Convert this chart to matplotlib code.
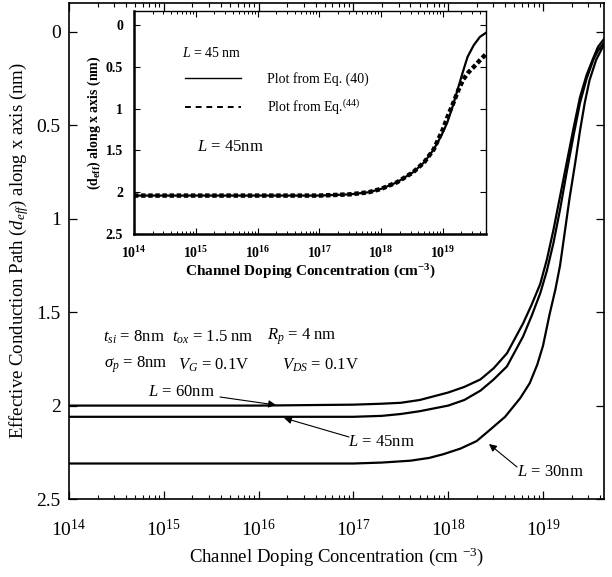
import matplotlib
matplotlib.use("Agg")
import matplotlib.pyplot as plt
import numpy as np
from matplotlib.lines import Line2D

plt.rcParams['font.family'] = ['Liberation Serif', 'DejaVu Serif']
plt.rcParams['mathtext.fontset'] = 'custom'
plt.rcParams['mathtext.rm'] = 'Liberation Serif'
plt.rcParams['mathtext.it'] = 'Liberation Serif:italic'
plt.rcParams['mathtext.bf'] = 'Liberation Serif:bold'

# ---------------- data (log10 of doping, d_eff in nm) ----------------
L60_logN = [14, 15, 16, 17, 17.3, 17.5, 17.7, 17.85, 18.0, 18.17, 18.34, 18.48, 18.62, 18.79,
            18.88, 18.97, 19.04, 19.11, 19.18, 19.25, 19.32, 19.39, 19.46, 19.53, 19.58, 19.64]
L60_d = [2.0, 2.0, 2.0, 1.995, 1.99, 1.985, 1.97, 1.95, 1.93, 1.90, 1.86, 1.80, 1.72, 1.56,
         1.46, 1.35, 1.22, 1.06, 0.88, 0.70, 0.52, 0.35, 0.23, 0.14, 0.08, 0.04]

L45_logN = [14, 15, 16, 17, 17.3, 17.5, 17.7, 17.85, 18.0, 18.17, 18.34, 18.48, 18.62, 18.79,
            18.88, 18.97, 19.04, 19.11, 19.18, 19.25, 19.32, 19.39, 19.46, 19.53, 19.58, 19.64]
L45_d = [2.06, 2.06, 2.06, 2.06, 2.055, 2.045, 2.03, 2.015, 2.0, 1.97, 1.92, 1.86, 1.79, 1.63,
         1.52, 1.40, 1.28, 1.13, 0.95, 0.75, 0.56, 0.38, 0.25, 0.15, 0.10, 0.06]

L30_logN = [14, 15, 16, 17, 17.3, 17.6, 17.8, 17.95, 18.13, 18.3, 18.44, 18.6, 18.76, 18.86,
            18.94, 19.0, 19.07, 19.13, 19.18, 19.23, 19.28, 19.34, 19.39, 19.44, 19.49,
            19.56, 19.64]
L30_d = [2.31, 2.31, 2.31, 2.31, 2.305, 2.295, 2.28, 2.26, 2.23, 2.19, 2.13, 2.06, 1.96, 1.88,
         1.78, 1.68, 1.51, 1.38, 1.25, 1.07, 0.89, 0.70, 0.53, 0.38, 0.26, 0.15, 0.07]

# inset (L = 45 nm)
eq40_logN = [14, 15, 16, 17, 17.5, 17.8, 18.0, 18.26, 18.52, 18.7, 18.85, 18.97, 19.07, 19.16,
             19.24, 19.32, 19.4, 19.5, 19.6, 19.72]
eq40_d = [2.04, 2.04, 2.04, 2.04, 2.025, 2.0, 1.96, 1.88, 1.76, 1.64, 1.49, 1.33, 1.17, 0.97,
          0.77, 0.57, 0.38, 0.24, 0.14, 0.08]
eq44_logN = [14, 15, 16, 17, 17.5, 17.8, 18.0, 18.26, 18.52, 18.7, 18.85, 19.0, 19.08, 19.17,
             19.25, 19.33, 19.42, 19.5, 19.6, 19.72]
eq44_d = [2.04, 2.04, 2.04, 2.04, 2.025, 2.0, 1.96, 1.88, 1.76, 1.64, 1.49, 1.25, 1.09, 0.93,
          0.78, 0.65, 0.56, 0.50, 0.42, 0.33]

main_xticks_exp = [14, 15, 16, 17, 18, 19]
main_xticklabels = ['10$^{14}$', '10$^{15}$', '10$^{16}$', '10$^{17}$', '10$^{18}$', '10$^{19}$']
main_yticks = [0, 0.5, 1, 1.5, 2, 2.5]
main_yticklabels = ['0', '0.5', '1', '1.5', '2', '2.5']
inset_xticklabels = [r'$\mathbf{10^{14}}$', r'$\mathbf{10^{15}}$', r'$\mathbf{10^{16}}$',
                     r'$\mathbf{10^{17}}$', r'$\mathbf{10^{18}}$', r'$\mathbf{10^{19}}$']

W, H = 612, 577
fig = plt.figure(figsize=(W / 100, H / 100), dpi=100)

def fx(px):
    return px / W

def fy(py):
    return 1 - py / H

# ---------------- main axes ----------------
ax = fig.add_axes([fx(69), fy(499), fx(604) - fx(69), fy(3) - fy(499)])
for lx, d in [(L60_logN, L60_d), (L45_logN, L45_d), (L30_logN, L30_d)]:
    ax.plot(10 ** np.array(lx), d, color='black', lw=1.6)
ax.set_xscale('log')
ax.set_xlim(1e14, 4.4e19)
ax.set_ylim(2.5, -0.155)
ax.set_xticks([10.0 ** e for e in main_xticks_exp])
ax.set_xticklabels(main_xticklabels, fontsize=14)
ax.set_yticks(main_yticks)
ax.set_yticklabels(main_yticklabels, fontsize=14)
ax.tick_params(which='both', direction='in', top=True, right=True)
ax.tick_params(which='major', length=6, width=0.9)
ax.tick_params(which='minor', length=3, width=0.8)
ax.tick_params(axis='x', which='major', pad=14)
ax.tick_params(axis='y', which='major', pad=6)
for s in ax.spines.values():
    s.set_linewidth(1.2)
ax.set_xlabel('Channel Doping Concentration (cm $^{-3}$)', fontsize=13.5, labelpad=4)
ax.set_ylabel('Effective Conduction Path ($d_{eff}$) along x axis (nm)', fontsize=13.5, labelpad=4)

def P(px, py):
    return (px, H - py)

kw = dict(xycoords='figure pixels', textcoords='figure pixels')
fig.text(fx(103), fy(337), r'$t_{si}$ = 8nm', fontsize=12, va='center', ha='left')
fig.text(fx(172), fy(337), r'$t_{ox}$ = 1.5 nm', fontsize=12, va='center', ha='left')
fig.text(fx(267), fy(337), r'$R_p$ = 4 nm', fontsize=12, va='center', ha='left')
fig.text(fx(104), fy(365), r'$\sigma_p$ = 8nm', fontsize=12, va='center', ha='left')
fig.text(fx(178), fy(365), r'$V_G$ = 0.1V', fontsize=12, va='center', ha='left')
fig.text(fx(282), fy(365), r'$V_{DS}$ = 0.1V', fontsize=12, va='center', ha='left')

arrow = dict(arrowstyle='-|>', color='black', lw=0.8, mutation_scale=11, shrinkA=0, shrinkB=0)
fig.text(fx(148), fy(392), r'$L$ = 60nm', fontsize=12, va='center', ha='left')
ax.annotate('', xy=P(276, 405), xytext=P(220, 397), arrowprops=arrow, **kw)
fig.text(fx(348), fy(442), r'$L$ = 45nm', fontsize=12, va='center', ha='left')
ax.annotate('', xy=P(284, 418), xytext=P(349, 437), arrowprops=arrow, **kw)
fig.text(fx(517), fy(472), r'$L$ = 30nm', fontsize=12, va='center', ha='left')
ax.annotate('', xy=P(489, 444), xytext=P(517, 467), arrowprops=arrow, **kw)

# ---------------- inset ----------------
ai = fig.add_axes([fx(134), fy(234), fx(486) - fx(134), fy(11) - fy(234)])
ai.plot(10 ** np.array(eq40_logN), eq40_d, color='black', lw=1.6)
ai.plot(10 ** np.array(eq44_logN), eq44_d, color='black', lw=3.2, linestyle=(0, (1.0, 0.6)))
ai.set_xscale('log')
ai.set_xlim(1e14, 5e19)
ai.set_ylim(2.5, -0.17)
ai.set_xticks([10.0 ** e for e in main_xticks_exp])
ai.set_xticklabels(inset_xticklabels, fontsize=10)
ai.set_yticks(main_yticks)
ai.set_yticklabels(main_yticklabels, fontsize=10, fontweight='bold')
ai.tick_params(which='both', direction='in', top=True, right=True)
ai.tick_params(which='major', length=4, width=0.8)
ai.tick_params(which='minor', length=2, width=0.7)
ai.tick_params(axis='x', which='major', pad=8)
ai.tick_params(axis='y', which='major', pad=8)
for name, s in ai.spines.items():
    s.set_linewidth(1.8 if name in ('left', 'bottom') else 1.0)
ai.set_xlabel('Channel Doping Concentration (cm$^{\\mathbf{-3}}$)', fontsize=11,
              fontweight='bold', labelpad=1)
ai.set_ylabel('($\\mathbf{d_{eff}}$) along x axis (nm)', fontsize=10, fontweight='bold', labelpad=2)

fig.text(fx(182), fy(53), r'$L$ = 45 nm', fontsize=10, va='center', ha='left')
fig.text(fx(197), fy(147), r'$L$ = 45nm', fontsize=12, va='center', ha='left')
handles = [Line2D([], [], color='black', lw=1.0),
           Line2D([], [], color='black', lw=1.4, linestyle=(0, (3, 2.5)))]
leg = ai.legend(handles, ['Plot from Eq. (40)', 'Plot from Eq.$^{(44)}$'],
                loc='upper left', bbox_to_anchor=(fx(185), fy(72)),
                bbox_transform=fig.transFigure, frameon=False, fontsize=10,
                handlelength=4.0, handletextpad=1.9, labelspacing=0.8,
                borderpad=0, borderaxespad=0)

fig.savefig('out.png', dpi=100)
